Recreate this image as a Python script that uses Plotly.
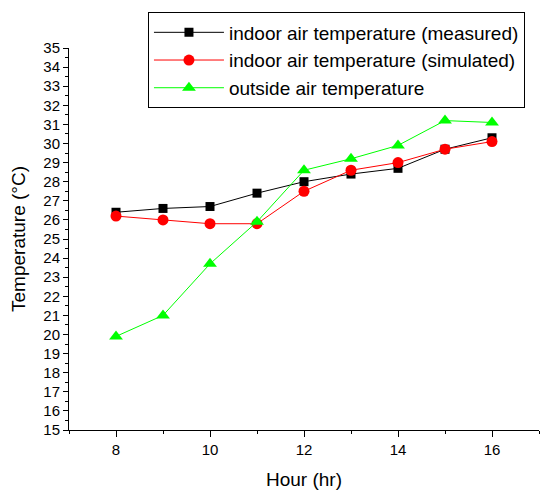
import plotly.graph_objects as go

hours = [8, 9, 10, 11, 12, 13, 14, 15, 16]
measured = [26.4, 26.6, 26.7, 27.4, 28.0, 28.4, 28.7, 29.7, 30.3]
simulated = [26.2, 26.0, 25.8, 25.8, 27.5, 28.6, 29.0, 29.7, 30.1]
outside = [19.9, 21.0, 23.7, 25.9, 28.6, 29.2, 29.9, 31.2, 31.1]

font = "Liberation Sans, Arial, sans-serif"

fig = go.Figure()
fig.add_trace(go.Scatter(x=hours, y=measured, mode="lines+markers",
                         name="indoor air temperature (measured)",
                         line=dict(color="black", width=1),
                         marker=dict(symbol="square", size=9, color="black")))
fig.add_trace(go.Scatter(x=hours, y=simulated, mode="lines+markers",
                         name="indoor air temperature (simulated)",
                         line=dict(color="red", width=1),
                         marker=dict(symbol="circle", size=11, color="red")))
fig.add_trace(go.Scatter(x=hours, y=outside, mode="lines+markers",
                         name="outside air temperature",
                         line=dict(color="#00ff00", width=1),
                         marker=dict(symbol="triangle-up", size=12, color="#00ff00")))

# page body has an 8px default margin, so the figure is 8px smaller and shifted
fig.update_layout(
    width=543, height=483,
    margin=dict(l=61, r=12, t=40, b=61, autoexpand=False),
    plot_bgcolor="white", paper_bgcolor="white",
    font=dict(family=font, size=15, color="black"),
    legend=dict(x=0.168, y=1.093, xanchor="left", yanchor="top",
                bordercolor="black", borderwidth=1, bgcolor="white",
                font=dict(size=19, family=font), tracegroupgap=0,
                itemwidth=70, entrywidth=318, entrywidthmode="pixels"),
    xaxis=dict(range=[7, 17], tick0=8, dtick=2, showgrid=False, zeroline=False,
               showline=True, linecolor="black", linewidth=1, automargin=False,
               ticks="outside", ticklen=6, tickcolor="black",
               minor=dict(dtick=1, tick0=7, ticks="outside", ticklen=3, tickcolor="black"),
               title=dict(text="Hour (hr)", font=dict(size=19), standoff=15),
               tickfont=dict(size=15)),
    yaxis=dict(range=[15, 35], dtick=1, showgrid=False, zeroline=False,
               showline=True, linecolor="black", linewidth=1, automargin=False,
               ticks="outside", ticklen=5, tickcolor="black",
               minor=dict(dtick=0.5, ticks="outside", ticklen=3, tickcolor="black"),
               title=dict(text="Temperature (°C)", font=dict(size=19), standoff=12),
               tickfont=dict(size=15)),
    showlegend=True,
)

fig.write_html("out.html")
